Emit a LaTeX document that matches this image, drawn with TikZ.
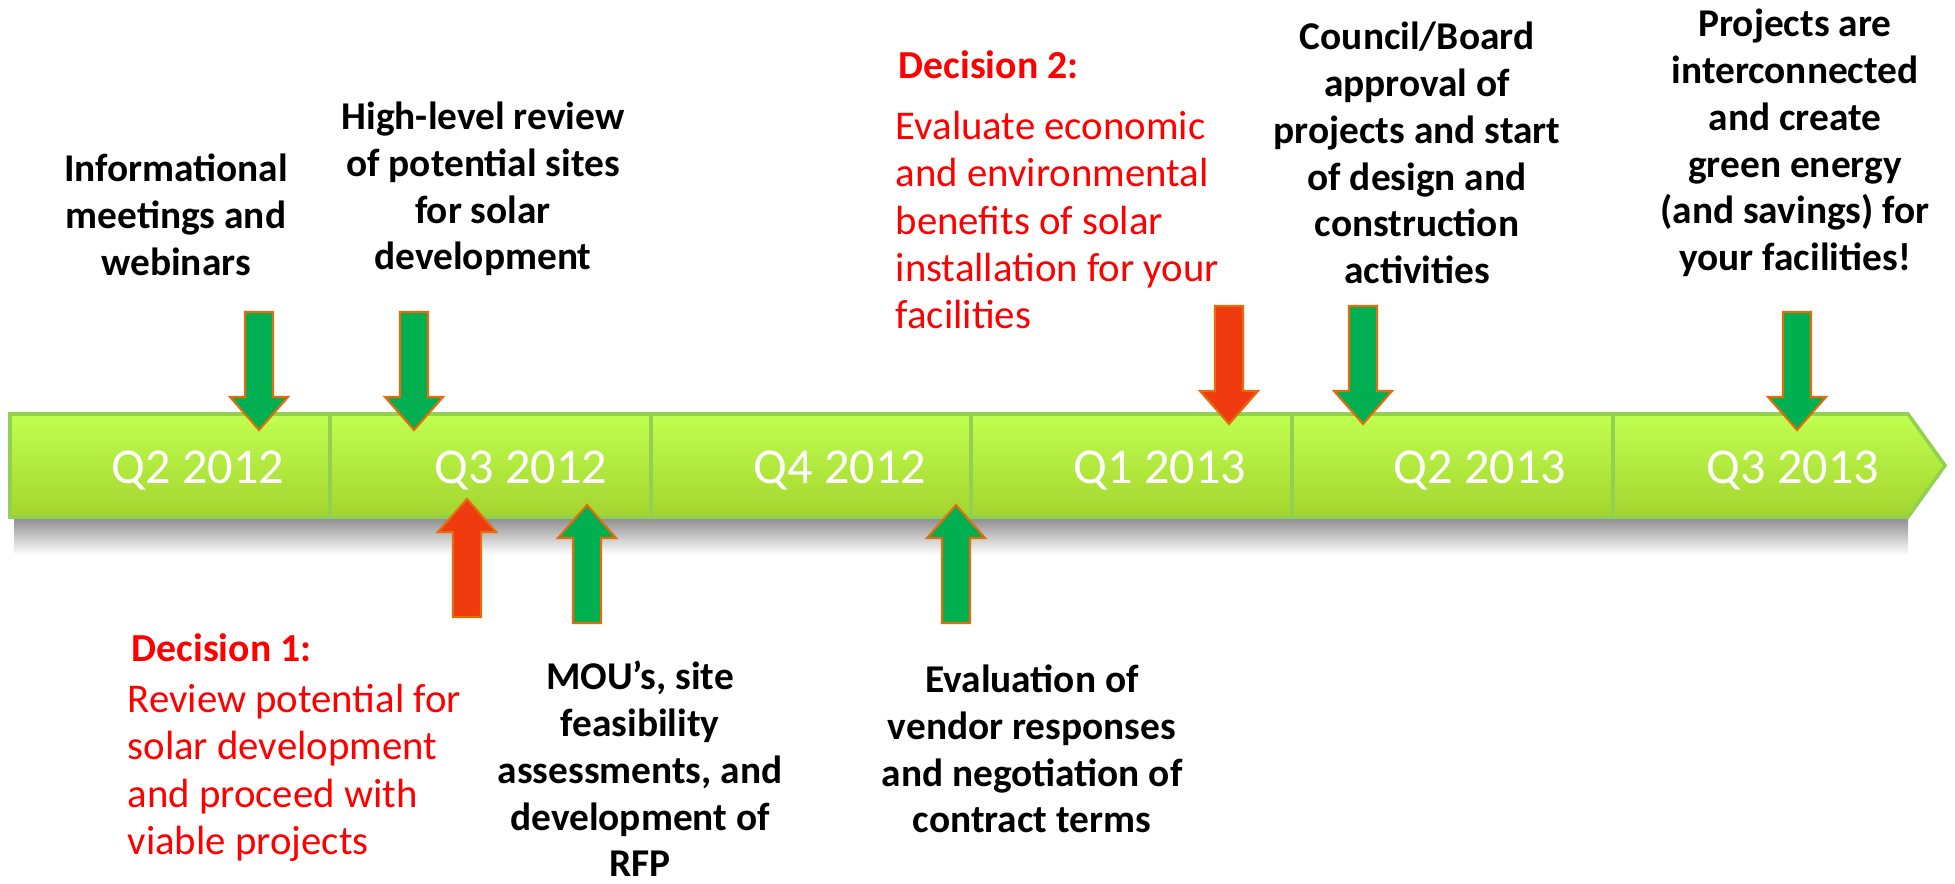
\documentclass[tikz,border=0pt]{standalone}
\usepackage{fontspec}
\setmainfont{Carlito}
\usetikzlibrary{shadows}

\definecolor{arrgreen}{RGB}{0,176,80}
\definecolor{arrred}{RGB}{240,58,16}
\definecolor{arredge}{RGB}{228,108,10}
\definecolor{barlight}{RGB}{192,255,80}
\definecolor{bardark}{RGB}{164,212,46}
\definecolor{baredge}{RGB}{146,208,80}
\definecolor{dectext}{RGB}{255,0,0}

\begin{document}
\begin{tikzpicture}[
	milestone/.style={font=\bfseries\fontsize{11.2}{13.3}\selectfont, align=center, inner sep=0},
	decision/.style={font=\bfseries\fontsize{11.3}{13.3}\selectfont, text=dectext, inner sep=0, anchor=west},
	decisiontext/.style={font=\fontsize{11.6}{13.5}\selectfont, text=dectext, align=left, inner sep=0, anchor=west},
	quarter/.style={font=\fontsize{14.3}{16}\selectfont, text=white, inner sep=0},
	greenarrow/.style={fill=arrgreen, draw=arredge, line width=0.6pt, drop shadow={opacity=0.35, shadow xshift=0.03cm, shadow yshift=-0.05cm}},
	redarrow/.style={fill=arrred, draw=arredge, line width=0.6pt, drop shadow={opacity=0.35, shadow xshift=0.03cm, shadow yshift=-0.05cm}},
	pics/downarrow/.style={code={
		\path[pic actions] (-0.14,1.18) -- (0.14,1.18) -- (0.14,0.33) -- (0.29,0.33) -- (0,0) -- (-0.29,0.33) -- (-0.14,0.33) -- cycle;}},
	pics/uparrow/.style={code={
		\path[pic actions] (-0.14,-1.18) -- (0.14,-1.18) -- (0.14,-0.33) -- (0.29,-0.33) -- (0,0) -- (-0.29,-0.33) -- (-0.14,-0.33) -- cycle;}}
	]
	\useasboundingbox (0,0) rectangle (19.55,8.83);

	% Timeline bar
	\shade[top color=black!45, bottom color=white] (0.14,3.66) rectangle (19.08,3.28);
	\draw[baredge, line width=1pt, top color=barlight, bottom color=bardark] (0.10,3.66) -- (0.10,4.69) -- (19.08,4.69) -- (19.45,4.175) -- (19.08,3.66) -- cycle;
	\draw[baredge, line width=1pt] (3.30,4.69) -- (3.30,3.66);
	\draw[baredge, line width=1pt] (6.51,4.69) -- (6.51,3.66);
	\draw[baredge, line width=1pt] (9.71,4.69) -- (9.71,3.66);
	\draw[baredge, line width=1pt] (12.92,4.69) -- (12.92,3.66);
	\draw[baredge, line width=1pt] (16.13,4.69) -- (16.13,3.66);

	% Quarters
	\node[quarter] (qone) at (1.98,4.12) {Q2 2012};
	\node[quarter] (qtwo) at (5.21,4.12) {Q3 2012};
	\node[quarter] (qthree) at (8.40,4.12) {Q4 2012};
	\node[quarter] (qfour) at (11.60,4.12) {Q1 2013};
	\node[quarter] (qfive) at (14.80,4.12) {Q2 2013};
	\node[quarter] (qsix) at (17.93,4.12) {Q3 2013};

	% Arrows above the bar
	\pic[greenarrow] at (2.59,4.53) {downarrow};
	\pic[greenarrow] at (4.14,4.53) {downarrow};
	\pic[redarrow] at (12.29,4.59) {downarrow};
	\pic[greenarrow] at (13.63,4.59) {downarrow};
	\pic[greenarrow] at (17.97,4.53) {downarrow};

	% Arrows below the bar
	\pic[redarrow] at (4.67,3.84) {uparrow};
	\pic[greenarrow] at (5.87,3.78) {uparrow};
	\pic[greenarrow] at (9.56,3.78) {uparrow};

	% Milestones above
	\node[milestone] (meetings) at (1.76,6.68) {Informational\\meetings and\\webinars};
	\node[milestone] (review) at (4.83,6.94) {High-level review\\of potential sites\\for solar\\development};
	\node[decision] (dectwo) at (8.98,8.18) {Decision 2:};
	\node[decisiontext] (dectwotext) at (8.95,6.63) {Evaluate economic\\and environmental\\benefits of solar\\installation for your\\facilities};
	\node[milestone] (approval) at (14.17,7.30) {Council/Board\\approval of\\projects and start\\of design and\\construction\\activities};
	\node[milestone] (energy) at (17.95,7.40) {Projects are\\interconnected\\and create\\green energy\\(and savings) for\\your facilities!};

	% Milestones below
	\node[decision] (decone) at (1.31,2.35) {Decision 1:};
	\node[decisiontext] (deconetext) at (1.27,1.10) {Review potential for\\solar development\\and proceed with\\viable projects};
	\node[milestone] (mou) at (6.40,1.14) {MOU’s, site\\feasibility\\assessments, and\\development of\\RFP};
	\node[milestone] (vendors) at (10.32,1.34) {Evaluation of\\vendor responses\\and negotiation of\\contract terms};
\end{tikzpicture}
\end{document}
